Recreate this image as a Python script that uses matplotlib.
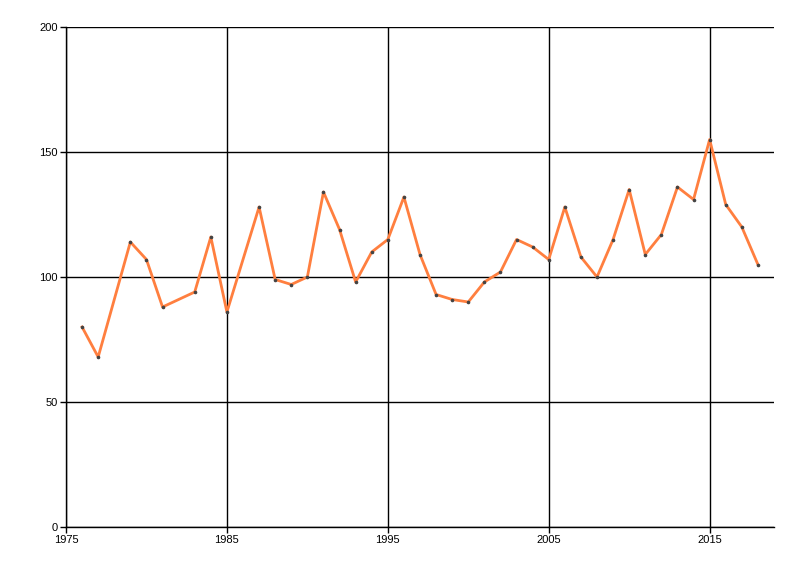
import matplotlib

matplotlib.use("Agg")
import matplotlib.pyplot as plt

years = [1976, 1977, 1979, 1980, 1981, 1983, 1984, 1985, 1987, 1988, 1989,
         1990, 1991, 1992, 1993, 1994, 1995, 1996, 1997, 1998, 1999, 2000,
         2001, 2002, 2003, 2004, 2005, 2006, 2007, 2008, 2009, 2010, 2011,
         2012, 2013, 2014, 2015, 2016, 2017, 2018]
values = [80, 68, 114, 107, 88, 94, 116, 86, 128, 99, 97,
          100, 134, 119, 98, 110, 115, 132, 109, 93, 91, 90,
          98, 102, 115, 112, 107, 128, 108, 100, 115, 135, 109,
          117, 136, 131, 155, 129, 120, 105]
x_ticks = [1975, 1985, 1995, 2005, 2015]
y_ticks = [0, 50, 100, 150, 200]

plt.rcParams["font.family"] = ["Liberation Sans", "DejaVu Sans"]

fig = plt.figure(figsize=(8, 5.76), dpi=100)
ax = fig.add_axes([66 / 800, 1 - 527 / 576, 708 / 800, 500 / 576])

ax.plot(years, values, color="#ff7f3f", linewidth=2, zorder=3)
ax.plot(years, values, linestyle="none", marker="o", markersize=1.6,
        color="#444444", zorder=4)

ax.set_xlim(1975, 2019)
ax.set_ylim(0, 200)
ax.set_xticks(x_ticks)
ax.set_yticks(y_ticks)
ax.grid(True, color="black", linewidth=1)
ax.set_axisbelow(True)

for side in ["top", "right"]:
    ax.spines[side].set_visible(False)
ax.spines["left"].set_linewidth(1)
ax.spines["bottom"].set_linewidth(1)
ax.tick_params(axis="both", labelsize=8, length=4, width=1, pad=2)

fig.savefig("out.png", dpi=100)
